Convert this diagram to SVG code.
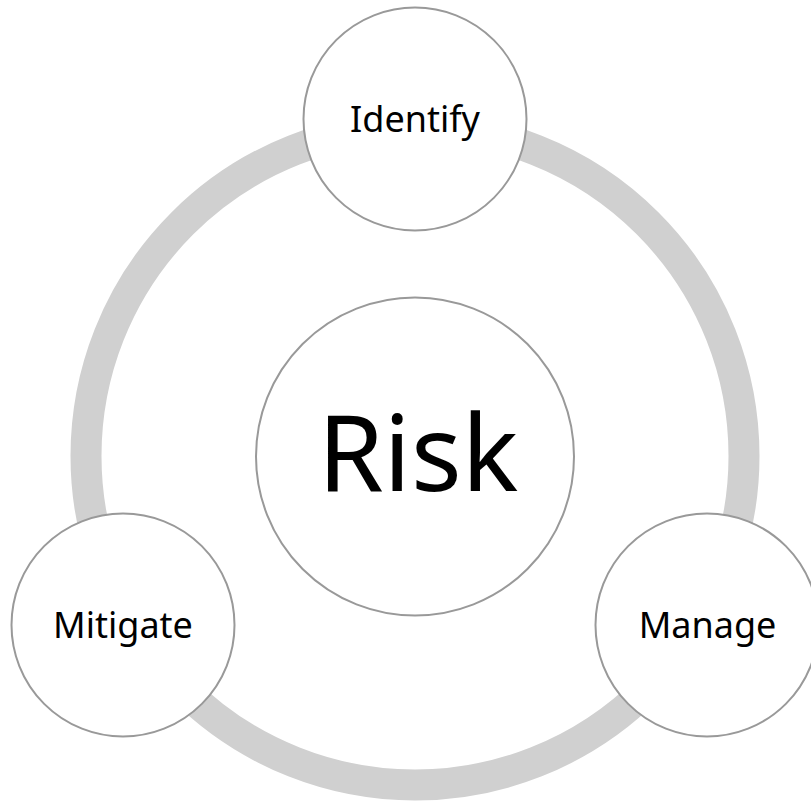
<svg xmlns="http://www.w3.org/2000/svg" width="811" height="802" viewBox="0 0 811 802">
<style>
.node{fill:#ffffff;stroke:#999999;stroke-width:2}
.lbl{font-family:"Noto Sans","Open Sans",sans-serif;fill:#000000;text-anchor:middle}
.ring{fill:none;stroke:#d0d0d0;stroke-width:31}
</style>
<rect width="811" height="802" fill="#ffffff"/>
<g id="connectors">
<circle class="ring" cx="415" cy="456" r="329"/>
</g>
<g id="risk">
<circle class="node" cx="415" cy="456.5" r="159"/>
<text class="lbl" x="418" y="491" font-size="106">Risk</text>
</g>
<g id="identify">
<circle class="node" cx="415" cy="119" r="111.5"/>
<text class="lbl" x="415" y="131.5" font-size="36">Identify</text>
</g>
<g id="mitigate">
<circle class="node" cx="123" cy="625" r="111.5"/>
<text class="lbl" x="123" y="637.5" font-size="36">Mitigate</text>
</g>
<g id="manage">
<circle class="node" cx="707" cy="625" r="111.5"/>
<text class="lbl" x="707.5" y="637.5" font-size="36">Manage</text>
</g>
</svg>
